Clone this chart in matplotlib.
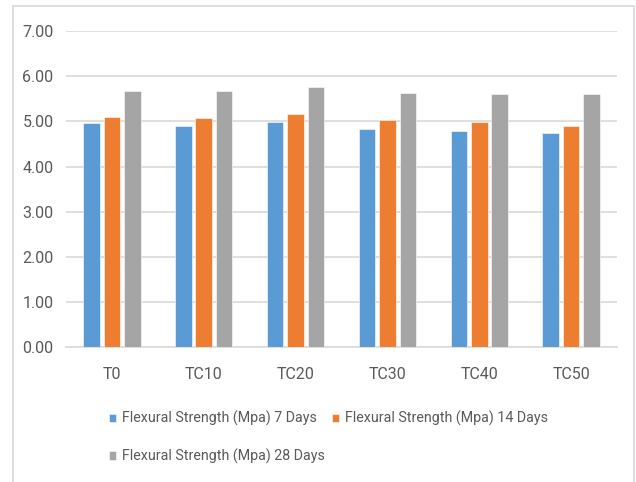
import numpy as np
import matplotlib
matplotlib.use("Agg")
import matplotlib.pyplot as plt
from matplotlib.patches import Rectangle

plt.rcParams['font.family'] = ['Roboto', 'DejaVu Sans']

categories = ["T0", "TC10", "TC20", "TC30", "TC40", "TC50"]
days_7 = [4.96, 4.90, 4.98, 4.84, 4.79, 4.74]
days_14 = [5.09, 5.07, 5.16, 5.03, 4.98, 4.90]
days_28 = [5.68, 5.68, 5.77, 5.63, 5.60, 5.60]
series_names = ["Flexural Strength (Mpa) 7 Days",
                "Flexural Strength (Mpa) 14 Days",
                "Flexural Strength (Mpa) 28 Days"]
colors = ["#5b9bd5", "#ed7d31", "#a5a5a5"]

W, H = 636, 482
fig = plt.figure(figsize=(W / 100, H / 100), dpi=100)

# chart border
fig.patches.append(Rectangle((13 / W, -0.05), (634 - 13) / W, (H - 6) / H + 0.05,
                             transform=fig.transFigure, fill=False,
                             edgecolor="#d9d9d9", linewidth=1.2))

ax = fig.add_axes([66 / W, (H - 347.3) / H, (617 - 66) / W, (347.3 - 31) / H])

x = np.arange(len(categories))
width = 0.18
step = 0.222
bars = []
for i, (vals, c) in enumerate(zip([days_7, days_14, days_28], colors)):
    b = ax.bar(x + (i - 1) * step, vals, width, color=c, edgecolor="white",
               linewidth=0.4, zorder=3, label=series_names[i])
    bars.append(b)

ax.set_xlim(-0.5, len(categories) - 0.5)
ax.set_ylim(0, 7)
ax.set_yticks(np.arange(0, 8, 1))
ax.set_yticklabels([f"{v:.2f}" for v in range(8)])
ax.set_xticks(x)
ax.set_xticklabels(categories)
ax.tick_params(length=0, labelsize=11.5, colors="#595959")
ax.tick_params(axis="y", pad=9)
ax.tick_params(axis="x", pad=14)
ax.grid(axis="y", color="#d9d9d9", linewidth=1.2, zorder=0)
for s in ["top", "right", "left"]:
    ax.spines[s].set_visible(False)
ax.spines["bottom"].set_color("#d9d9d9")
ax.spines["bottom"].set_linewidth(1.2)

handles = [bars[0], bars[2], bars[1]]
labels = [series_names[0], series_names[2], series_names[1]]
fig.legend(handles, labels, ncol=2, loc="upper left",
           bbox_to_anchor=(102 / W, (H - 404) / H), frameon=False,
           fontsize=10.3, labelcolor="#595959", handlelength=0.5,
           handleheight=0.5, handletextpad=0.4, columnspacing=0.5,
           labelspacing=1.55, borderpad=0)

fig.savefig("out.png", dpi=100)
